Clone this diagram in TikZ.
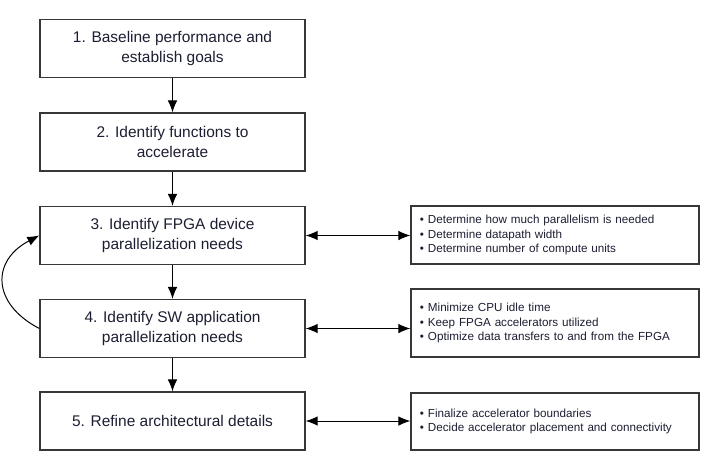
\documentclass[tikz,border=0pt]{standalone}
\usepackage{fontspec}
\setmainfont{Liberation Sans}
\usetikzlibrary{positioning,arrows.meta}
\definecolor{txt}{RGB}{28,30,50}
\definecolor{frame}{RGB}{55,55,55}

\begin{document}
\begin{tikzpicture}[x=0.025cm,y=-0.025cm,
    stepbox/.style={draw=frame,line width=0.9pt,minimum width=6.625cm,minimum height=1.45cm,align=center,text=txt,font=\fontsize{11}{13.8}\selectfont},
    notebox/.style={draw=frame,line width=0.9pt,minimum width=7.2cm,text width=6.75cm,align=left,text=txt,font=\fontsize{8.3}{10.4}\selectfont},
    flow/.style={-{Latex[length=3mm,width=2.4mm]},line width=0.7pt},
    link/.style={{Latex[length=3mm,width=2.4mm]}-{Latex[length=3mm,width=2.4mm]},line width=0.7pt}]
    \useasboundingbox (0,0) rectangle (707,459);

    \node [stepbox] (s1) at (172.5,48.5) {1. Baseline performance and\\establish goals};
    \node [stepbox] (s2) at (172.5,142) {2. Identify functions to\\accelerate};
    \node [stepbox] (s3) at (172.5,235.5) {3. Identify FPGA device\\parallelization needs};
    \node [stepbox] (s4) at (172.5,328.5) {4. Identify SW application\\parallelization needs};
    \node [stepbox] (s5) at (172.5,421) {5. Refine architectural details};

    \node [notebox,minimum height=1.45cm] (n3) at (555,235) {• Determine how much parallelism is needed\\• Determine datapath width\\• Determine number of compute units};
    \node [notebox,minimum height=1.7cm] (n4) at (555,323) {• Minimize CPU idle time\\• Keep FPGA accelerators utilized\\• Optimize data transfers to and from the FPGA};
    \node [notebox,minimum height=1.43cm] (n5) at (555,421.5) {• Finalize accelerator boundaries\\• Decide accelerator placement and connectivity};

    \draw [flow] (s1) -- (s2);
    \draw [flow] (s2) -- (s3);
    \draw [flow] (s3) -- (s4);
    \draw [flow] (s4) -- (s5);
    \draw [link] (s3.east) -- (s3.east -| n3.west);
    \draw [link] (s4.east) -- (s4.east -| n4.west);
    \draw [link] (s5.east) -- (s5.east -| n5.west);
    \draw [flow] (s4.west) .. controls +(-48,-25) and +(-48,25) .. (s3.west);
\end{tikzpicture}
\end{document}
